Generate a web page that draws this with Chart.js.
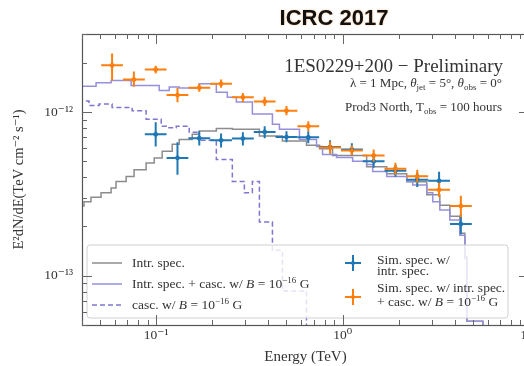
<!DOCTYPE html>
<html><head><meta charset="utf-8">
<script src="https://cdn.jsdelivr.net/npm/chart.js@4/dist/chart.umd.min.js"></script>
<style>
html,body{margin:0;padding:0;background:#fff;overflow:hidden;width:524px;height:366px;}
#wrap{position:relative;width:524px;height:366px;overflow:hidden;}
canvas{position:absolute;left:0;top:0;}
</style></head><body>
<div id="wrap"><canvas id="c" width="540" height="366" style="width:540px;height:366px"></canvas></div>
<script>
// ---------- data ----------
const binCenters = [0.058, 0.0759, 0.0994, 0.1301, 0.1703, 0.2229, 0.2918, 0.382, 0.5, 0.6545, 0.8566, 1.121, 1.468, 1.921, 2.515, 3.293, 4.309];
const binLow     = [0.0507, 0.0663, 0.0869, 0.1137, 0.1488, 0.1949, 0.2549, 0.3339, 0.4369, 0.572, 0.7487, 0.98, 1.283, 1.679, 2.198, 2.877, 3.767];
const binHigh    = [0.0663, 0.0869, 0.1137, 0.1488, 0.1949, 0.2549, 0.3339, 0.4369, 0.572, 0.7487, 0.98, 1.283, 1.679, 2.198, 2.877, 3.767, 4.932];

const simCascFlux = [1.93e-12, 1.58e-12, 1.82e-12, 1.27e-12, 1.41e-12, 1.49e-12, 1.23e-12, 1.16e-12, 1.02e-12, 8.2e-13, 6.08e-13, 5.82e-13, 5.43e-13, 4.51e-13, 4.05e-13, 3.35e-13, 2.67e-13];
const simCascHi   = [2.28e-12, 1.77e-12, 1.92e-12, 1.41e-12, 1.49e-12, 1.58e-12, 1.31e-12, 1.24e-12, 1.09e-12, 8.8e-13, 6.62e-13, 6.25e-13, 5.91e-13, 4.91e-13, 4.45e-13, 3.7e-13, 3.08e-13];
const simCascLo   = [1.56e-12, 1.43e-12, 1.72e-12, 1.15e-12, 1.33e-12, 1.41e-12, 1.15e-12, 1.09e-12, 9.58e-13, 7.63e-13, 5.58e-13, 5.43e-13, 4.99e-13, 4.14e-13, 3.7e-13, 3.03e-13, 2.28e-13];

const simIntrFlux = [null, null, 7.31e-13, 5.25e-13, 6.92e-13, 6.72e-13, 6.89e-13, 7.56e-13, 7.04e-13, 7.01e-13, 6.12e-13, 5.91e-13, 5.0e-13, 4.38e-13, 3.86e-13, 3.8e-13, 2.07e-13];
const simIntrHi   = [null, null, 8.68e-13, 6.53e-13, 7.63e-13, 7.41e-13, 7.52e-13, 8.2e-13, 7.63e-13, 7.63e-13, 6.72e-13, 6.44e-13, 5.51e-13, 4.77e-13, 4.27e-13, 4.32e-13, 2.38e-13];
const simIntrLo   = [null, null, 6.16e-13, 4.14e-13, 6.25e-13, 6.08e-13, 6.25e-13, 6.92e-13, 6.53e-13, 6.44e-13, 5.58e-13, 5.43e-13, 4.57e-13, 4.03e-13, 3.49e-13, 3.35e-13, 1.79e-13];

// step curves: energy where each step starts, and the step value
const intrE = [0.039, 0.041, 0.0447, 0.0506, 0.0573, 0.0609, 0.069, 0.0761, 0.0883, 0.0976, 0.1077, 0.1219, 0.1329, 0.1561, 0.1703, 0.2102, 0.2562, 0.3579, 0.4757, 0.6403, 0.7522, 0.8835, 1.346, 1.724, 2.208, 2.829, 3.323, 3.761, 4.256, 4.529, 4.642, 5.657, 6.565, 10];
const intrF = [2.49e-13, 2.67e-13, 2.83e-13, 3.02e-13, 3.21e-13, 3.44e-13, 3.77e-13, 4.04e-13, 4.45e-13, 4.89e-13, 5.25e-13, 5.77e-13, 6.35e-13, 6.81e-13, 7.31e-13, 7.66e-13, 7.93e-13, 7.86e-13, 7.14e-13, 6.65e-13, 6.26e-13, 5.97e-13, 5.43e-13, 4.64e-13, 4.2e-13, 3.75e-13, 3.12e-13, 2.7e-13, 2.31e-13, 1.82e-13, 1.31e-13, 5.27e-14, 2e-14, 2e-14];

const totE = [0.039, 0.0476, 0.0573, 0.0734, 0.1038, 0.1175, 0.1329, 0.1703, 0.2102, 0.2408, 0.2692, 0.3281, 0.4204, 0.4583, 0.5872, 0.7248, 0.7806, 0.9285, 1.132, 1.346, 1.45, 1.724, 2.208, 2.378, 2.829, 3.047, 3.323, 3.761, 4.256, 4.529, 4.642, 5.657, 6.565, 10];
const totF = [1.531e-12, 1.437e-12, 1.51e-12, 1.56e-12, 1.453e-12, 1.353e-12, 1.421e-12, 1.401e-12, 1.489e-12, 1.322e-12, 1.232e-12, 1.152e-12, 9.72e-13, 8.43e-13, 7.86e-13, 6.81e-13, 6.17e-13, 5.5e-13, 5.27e-13, 5.0e-13, 4.78e-13, 4.34e-13, 4.04e-13, 3.77e-13, 3.59e-13, 3.21e-13, 2.83e-13, 2.52e-13, 2.19e-13, 1.77e-13, 1.27e-13, 5.27e-14, 2e-14, 2e-14];

const cascE = [0.039, 0.0436, 0.0494, 0.058, 0.0743, 0.0883, 0.1064, 0.1132, 0.1281, 0.1504, 0.1703, 0.2102, 0.2562, 0.2972, 0.3281, 0.3579, 0.4204, 0.4757, 0.6403, 0.7522, 10];
const cascF = [1.203e-12, 1.169e-12, 1.097e-12, 1.12e-12, 1.066e-12, 1.019e-12, 9.05e-13, 8.19e-13, 8.02e-13, 8.19e-13, 7.52e-13, 6.72e-13, 5.13e-13, 3.77e-13, 3.21e-13, 3.77e-13, 2.13e-13, 1.43e-13, 8.08e-14, 1e-14, 1e-14];

const xTickValues = [0.1, 1, 10];
const xTickLabels = ['10\u207B\u00B9', '10\u2070', '10\u00B9'];
const yTickValues = [1e-13, 1e-12];
const yTickLabels = ['10\u207B\u00B9\u00B3', '10\u207B\u00B9\u00B2'];

// ---------- styling ----------
const SERIF = '"Liberation Serif","DejaVu Serif","Times New Roman",serif';
const BLUE = '#1f77b4', ORANGE = '#ff7f0e', GRAY = '#8c8c8c', PURPLE = '#9690dc', PURPLE_D = '#7e76cf';

function pts(xs, ys) { const o = []; xs.forEach((x, i) => { if (ys[i] != null) o.push({x: x, y: ys[i]}); }); return o; }

function fontFor(r, size) {
  const s = (r.sup || r.sub) ? Math.round(size * 0.7) : size;
  return (r.i ? 'italic ' : '') + s + 'px ' + SERIF;
}
function drawRich(ctx, runs, x, y, size, align) {
  let w = 0;
  runs.forEach(r => { ctx.font = fontFor(r, size); w += ctx.measureText(r.t).width; });
  let cx = align === 'right' ? x - w : (align === 'center' ? x - w / 2 : x);
  ctx.textAlign = 'left'; ctx.textBaseline = 'alphabetic';
  runs.forEach(r => {
    ctx.font = fontFor(r, size);
    const dy = r.sup ? -size * 0.38 : (r.sub ? size * 0.25 : 0);
    ctx.fillText(r.t, cx, y + dy);
    cx += ctx.measureText(r.t).width;
  });
}

const errorBars = {
  id: 'errorBars',
  afterDatasetsDraw(chart) {
    const ctx = chart.ctx, xs = chart.scales.x, ys = chart.scales.y;
    const series = [[simIntrFlux, simIntrLo, simIntrHi, BLUE], [simCascFlux, simCascLo, simCascHi, ORANGE]];
    ctx.save();
    ctx.beginPath(); ctx.rect(chart.chartArea.left, chart.chartArea.top, chart.chartArea.right - chart.chartArea.left, chart.chartArea.bottom - chart.chartArea.top); ctx.clip();
    series.forEach(([f, lo, hi, col]) => {
      ctx.strokeStyle = col; ctx.lineWidth = 2;
      f.forEach((v, i) => {
        if (v == null) return;
        const px = xs.getPixelForValue(binCenters[i]), py = ys.getPixelForValue(v);
        ctx.beginPath();
        ctx.moveTo(xs.getPixelForValue(binLow[i]), py); ctx.lineTo(xs.getPixelForValue(binHigh[i]), py);
        ctx.moveTo(px, ys.getPixelForValue(lo[i])); ctx.lineTo(px, ys.getPixelForValue(hi[i]));
        ctx.stroke();
      });
    });
    ctx.restore();
  }
};

const frameAndTicks = {
  id: 'frameAndTicks',
  afterDatasetsDraw(chart) {
    const ctx = chart.ctx, a = chart.chartArea, xs = chart.scales.x, ys = chart.scales.y;
    ctx.save();
    ctx.strokeStyle = '#555'; ctx.lineWidth = 1.2;
    ctx.strokeRect(Math.round(a.left) + 0.5, Math.round(a.top) + 0.5, Math.round(a.right - a.left), Math.round(a.bottom - a.top));
    ctx.strokeStyle = '#666'; ctx.lineWidth = 1;
    for (let d = 0.01; d <= 10; d *= 10) {
      for (let m = 1; m <= 9; m++) {
        const v = m * d;
        if (v < xs.min * 0.999 || v > xs.max * 1.001) continue;
        const px = Math.round(xs.getPixelForValue(v)) + 0.5, L = m === 1 ? 10 : 5;
        ctx.beginPath(); ctx.moveTo(px, a.bottom); ctx.lineTo(px, a.bottom - L);
        ctx.moveTo(px, a.top); ctx.lineTo(px, a.top + L); ctx.stroke();
      }
    }
    for (let d = 1e-14; d <= 1e-12 * 1.01; d *= 10) {
      for (let m = 1; m <= 9; m++) {
        const v = m * d;
        if (v < ys.min * 0.999 || v > ys.max * 1.001) continue;
        const py = Math.round(ys.getPixelForValue(v)) + 0.5, L = m === 1 ? 10 : 5;
        ctx.beginPath(); ctx.moveTo(a.left, py); ctx.lineTo(a.left + L, py);
        ctx.moveTo(a.right, py); ctx.lineTo(a.right - L, py); ctx.stroke();
      }
    }
    ctx.restore();
  }
};

const legendBox = {
  id: 'legendBox',
  afterDatasetsDraw(chart) {
    const ctx = chart.ctx;
    ctx.save();
    const x0 = 87, y0 = 245, w = 421, h = 73, r = 3;
    ctx.beginPath();
    ctx.moveTo(x0 + r, y0); ctx.lineTo(x0 + w - r, y0); ctx.quadraticCurveTo(x0 + w, y0, x0 + w, y0 + r);
    ctx.lineTo(x0 + w, y0 + h - r); ctx.quadraticCurveTo(x0 + w, y0 + h, x0 + w - r, y0 + h);
    ctx.lineTo(x0 + r, y0 + h); ctx.quadraticCurveTo(x0, y0 + h, x0, y0 + h - r);
    ctx.lineTo(x0, y0 + r); ctx.quadraticCurveTo(x0, y0, x0 + r, y0); ctx.closePath();
    ctx.fillStyle = 'rgba(255,255,255,0.8)'; ctx.fill();
    ctx.strokeStyle = '#d0d0d0'; ctx.lineWidth = 1; ctx.stroke();

    ctx.lineWidth = 1.5;
    ctx.strokeStyle = GRAY; ctx.beginPath(); ctx.moveTo(92, 263); ctx.lineTo(122, 263); ctx.stroke();
    ctx.strokeStyle = PURPLE; ctx.beginPath(); ctx.moveTo(92, 284); ctx.lineTo(122, 284); ctx.stroke();
    ctx.strokeStyle = PURPLE_D; ctx.setLineDash([5, 3]); ctx.beginPath(); ctx.moveTo(92, 305); ctx.lineTo(122, 305); ctx.stroke();
    ctx.setLineDash([]);
    ctx.lineWidth = 2;
    [[BLUE, 263], [ORANGE, 297]].forEach(([c, y]) => {
      ctx.strokeStyle = c; ctx.beginPath();
      ctx.moveTo(345, y); ctx.lineTo(361, y); ctx.moveTo(353, y - 8); ctx.lineTo(353, y + 8); ctx.stroke();
      ctx.fillStyle = c; ctx.beginPath(); ctx.arc(353, y, 2, 0, Math.PI * 2); ctx.fill();
    });
    ctx.fillStyle = '#333';
    const S = 13.5;
    drawRich(ctx, [{t: 'Intr. spec.'}], 132, 267, S);
    drawRich(ctx, [{t: 'Intr. spec. + casc. w/ '}, {t: 'B', i: true}, {t: ' = 10'}, {t: '\u221216', sup: true}, {t: ' G'}], 132, 288, S);
    drawRich(ctx, [{t: 'casc. w/ '}, {t: 'B', i: true}, {t: ' = 10'}, {t: '\u221216', sup: true}, {t: ' G'}], 132, 309, S);
    drawRich(ctx, [{t: 'Sim. spec. w/'}], 377, 264, S);
    drawRich(ctx, [{t: 'intr. spec.'}], 377, 275, S);
    drawRich(ctx, [{t: 'Sim. spec. w/ intr. spec.'}], 377, 292, S);
    drawRich(ctx, [{t: '+ casc. w/ '}, {t: 'B', i: true}, {t: ' = 10'}, {t: '\u221216', sup: true}, {t: ' G'}], 377, 306, S);
    ctx.restore();
  }
};

const annotations = {
  id: 'annotations',
  afterDraw(chart) {
    const ctx = chart.ctx;
    ctx.save();
    ctx.fillStyle = '#111';
    ctx.shadowColor = 'rgba(255,140,40,0.6)'; ctx.shadowBlur = 2;
    ctx.font = 'bold 22px "Liberation Sans", Arial, sans-serif';
    ctx.textAlign = 'center'; ctx.textBaseline = 'alphabetic';
    ctx.fillText('ICRC 2017', 334, 25);
    ctx.shadowBlur = 0; ctx.shadowColor = 'transparent';
    ctx.fillStyle = '#333';
    drawRich(ctx, [{t: '1ES0229+200 \u2212 Preliminary'}], 503, 72, 19, 'right');
    drawRich(ctx, [{t: '\u03BB = 1 Mpc, '}, {t: '\u03B8', i: true}, {t: 'jet', sub: true}, {t: ' = 5\u00B0, '}, {t: '\u03B8', i: true}, {t: 'obs', sub: true}, {t: ' = 0\u00B0'}], 502, 87, 13, 'right');
    drawRich(ctx, [{t: 'Prod3 North, T'}, {t: 'obs', sub: true}, {t: ' = 100 hours'}], 502, 111, 13, 'right');
    ctx.restore();
  }
};

new Chart(document.getElementById('c'), {
  data: {
    datasets: [
      {type: 'line', label: 'Intr. spec.', data: pts(intrE, intrF), stepped: 'after', borderColor: GRAY, borderWidth: 1.5, pointRadius: 0, fill: false, order: 5},
      {type: 'line', label: 'Intr. spec. + casc.', data: pts(totE, totF), stepped: 'after', borderColor: PURPLE, borderWidth: 1.5, pointRadius: 0, fill: false, order: 4},
      {type: 'line', label: 'casc.', data: pts(cascE, cascF), stepped: 'after', borderColor: PURPLE_D, borderDash: [5, 3], borderWidth: 1.5, pointRadius: 0, fill: false, order: 3},
      {type: 'scatter', label: 'Sim. spec. w/ intr. spec.', data: pts(binCenters, simIntrFlux), pointRadius: 2, backgroundColor: BLUE, borderColor: BLUE, order: 2},
      {type: 'scatter', label: 'Sim. spec. w/ intr. spec. + casc.', data: pts(binCenters, simCascFlux), pointRadius: 2, backgroundColor: ORANGE, borderColor: ORANGE, order: 1}
    ]
  },
  options: {
    responsive: false, animation: false, devicePixelRatio: 1,
    layout: {padding: {top: 34, right: 11, bottom: 0, left: 0}},
    plugins: {legend: {display: false}, tooltip: {enabled: false}, title: {display: false}},
    scales: {
      x: {
        type: 'logarithmic', min: 0.04, max: 10, position: 'bottom',
        grid: {display: false, drawTicks: false}, border: {display: false},
        afterBuildTicks: s => { s.ticks = xTickValues.map(v => ({value: v})); },
        afterFit: s => { s.height = 41; s.paddingLeft = 0; s.paddingRight = 0; },
        ticks: {autoSkip: false, maxRotation: 0, padding: 2, color: '#333', font: {family: SERIF, size: 13.5},
          callback: (v) => { const i = xTickValues.indexOf(v); return i >= 0 ? xTickLabels[i] : ''; }},
        title: {display: true, text: 'Energy (TeV)', color: '#333', font: {family: SERIF, size: 15}, padding: {top: 0, bottom: 0}}
      },
      y: {
        type: 'logarithmic', min: 5e-14, max: 3e-12, position: 'left',
        grid: {display: false, drawTicks: false}, border: {display: false},
        afterBuildTicks: s => { s.ticks = yTickValues.map(v => ({value: v})); },
        afterFit: s => { s.width = 82; s.paddingTop = 0; s.paddingBottom = 0; },
        ticks: {autoSkip: false, padding: 9, color: '#333', font: {family: SERIF, size: 13.5},
          callback: (v) => { const i = yTickValues.findIndex(t => Math.abs(t - v) / t < 1e-6); return i >= 0 ? yTickLabels[i] : ''; }},
        title: {display: true, text: 'E\u00B2dN/dE(TeV cm\u207B\u00B2 s\u207B\u00B9)', color: '#333', font: {family: SERIF, size: 14.5}, padding: {top: 10, bottom: 0}}
      }
    }
  },
  plugins: [errorBars, legendBox, frameAndTicks, annotations]
});
</script>
</body></html>
